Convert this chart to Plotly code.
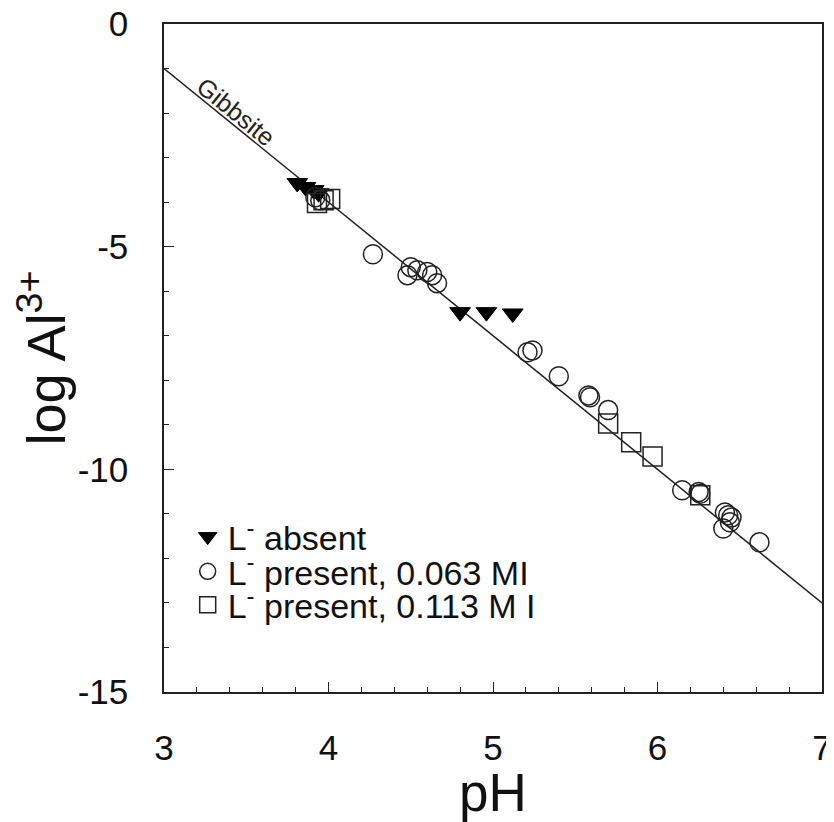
import plotly.graph_objects as go

# Gibbsite solubility line (endpoints)
gibbsite_ph = [3.0, 7.0]
gibbsite_log = [-1.0, -13.0]

# L- absent
absent_ph = [3.81, 3.86, 3.91, 3.94, 4.80, 4.96, 5.12]
absent_log = [-3.57, -3.66, -3.73, -3.80, -6.47, -6.47, -6.50]

# L- present, 0.063 M I
p063_ph = [3.92, 3.95, 4.27, 4.48, 4.50, 4.54, 4.60, 4.63, 4.66, 5.21, 5.24,
           5.40, 5.58, 5.59, 5.70, 6.15, 6.25, 6.26, 6.41, 6.43, 6.45, 6.40, 6.44, 6.62]
p063_log = [-3.89, -3.96, -5.17, -5.64, -5.46, -5.53, -5.57, -5.64, -5.82, -7.37, -7.33,
            -7.91, -8.34, -8.38, -8.67, -10.47, -10.51, -10.55, -10.97, -11.03, -11.08, -11.33, -11.19, -11.64]

# L- present, 0.113 M I
p113_ph = [3.93, 3.97, 4.01, 5.70, 5.84, 5.97, 6.26]
p113_log = [-4.02, -3.96, -3.93, -8.97, -9.39, -9.71, -10.58]

x_ticks = [3, 4, 5, 6, 7]
x_ticktext = ["3", "4", "5", "6", "7"]
y_ticks = [0, -5, -10, -15]
y_ticktext = ["0", "-5", "-10", "-15"]

FONT = "Liberation Sans, Arial, sans-serif"
LEG_FONT = dict(family=FONT, size=34, color="#111")

fig = go.Figure()
fig.add_trace(go.Scatter(x=gibbsite_ph, y=gibbsite_log, mode="lines",
                         line=dict(color="#222", width=1.5), showlegend=False, hoverinfo="skip"))
fig.add_trace(go.Scatter(x=absent_ph, y=absent_log, mode="markers", name="L<sup>-</sup> absent",
                         legend="legend",
                         marker=dict(symbol="triangle-down", size=18, color="black",
                                     line=dict(color="black", width=1))))
fig.add_trace(go.Scatter(x=p063_ph, y=p063_log, mode="markers", name="L<sup>-</sup> present, 0.063 MI",
                         legend="legend2",
                         marker=dict(symbol="circle-open", size=19, color="#222",
                                     line=dict(color="#222", width=1.5))))
fig.add_trace(go.Scatter(x=p113_ph, y=p113_log, mode="markers", name="L<sup>-</sup> present, 0.113 M I",
                         legend="legend3",
                         marker=dict(symbol="square-open", size=19, color="#222",
                                     line=dict(color="#222", width=1.5))))

fig.add_annotation(x=3.44, y=-1.98, text="Gibbsite", showarrow=False, textangle=39,
                   font=dict(family=FONT, size=25, color="#222"))

axis_common = dict(showline=True, linecolor="#222", linewidth=1.5, mirror=True,
                   ticks="inside", tickcolor="#222", ticklen=10, tickwidth=1.2,
                   showgrid=False, zeroline=False, automargin=False,
                   ticklabeloverflow="allow",
                   tickfont=dict(family=FONT, size=35, color="#111"))

fig.update_xaxes(range=[3, 7], tickmode="array", tickvals=x_ticks, ticktext=x_ticktext,
                 ticklabelstandoff=24,
                 minor=dict(dtick=0.2, ticks="inside", ticklen=5, tickcolor="#222", showgrid=False),
                 title=dict(text="pH", font=dict(family=FONT, size=53, color="#111"), standoff=6),
                 **axis_common)
fig.update_yaxes(range=[-15, 0], tickmode="array", tickvals=y_ticks, ticktext=y_ticktext,
                 ticklabelstandoff=27,
                 minor=dict(dtick=1, ticks="inside", ticklen=5, tickcolor="#222", showgrid=False),
                 title=dict(text="log Al<sup>3+</sup>", font=dict(family=FONT, size=54, color="#111"), standoff=6),
                 **axis_common)

leg_common = dict(x=0.036, xanchor="left", yanchor="middle", bgcolor="rgba(0,0,0,0)",
                  font=LEG_FONT, itemsizing="trace", borderwidth=0)
fig.update_layout(
    width=826, height=814,
    margin=dict(l=156, r=12, t=16, b=130),
    paper_bgcolor="white", plot_bgcolor="white",
    font=dict(family=FONT, color="#111"),
    legend=dict(y=0.232, **leg_common),
    legend2=dict(y=0.180, **leg_common),
    legend3=dict(y=0.130, **leg_common),
)

fig.write_html("out.html")
